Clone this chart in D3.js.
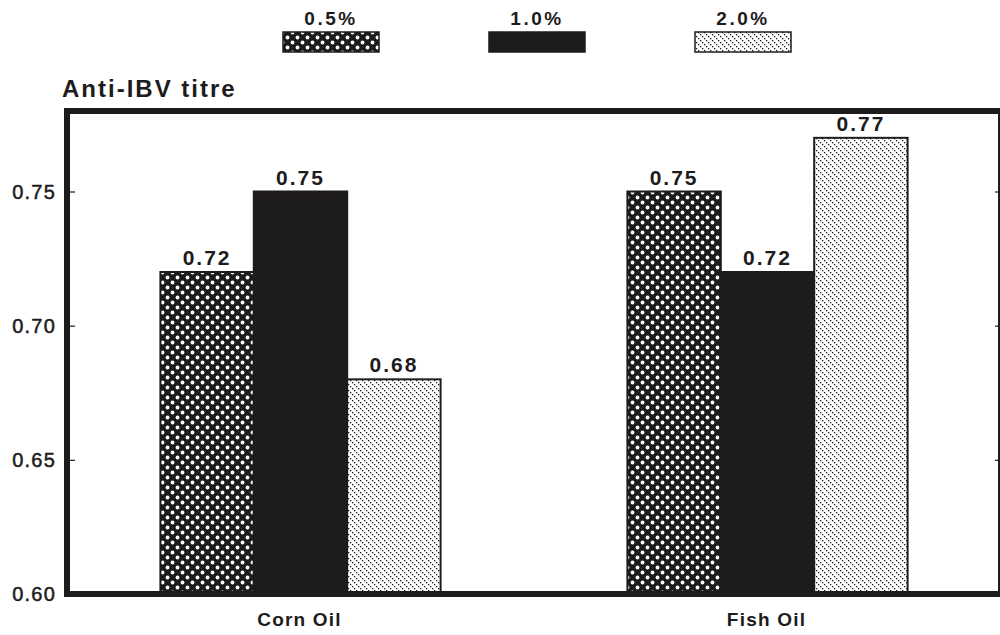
<!DOCTYPE html>
<html>
<head>
<meta charset="utf-8">
<script src="https://cdn.jsdelivr.net/npm/d3@7"></script>
<style>
  html, body { margin: 0; padding: 0; background: #fff; }
  svg { display: block; font-family: "Liberation Sans", Arial, Helvetica, sans-serif; }
</style>
</head>
<body>
<svg id="chart" width="1000" height="635"></svg>
<script>
// ---- data ----
const categories = ["Corn Oil", "Fish Oil"];
const seriesNames = ["0.5%", "1.0%", "2.0%"];
const values05 = [0.72, 0.75];
const values10 = [0.75, 0.72];
const values20 = [0.68, 0.77];
const valueLabels05 = ["0.72", "0.75"];
const valueLabels10 = ["0.75", "0.72"];
const valueLabels20 = ["0.68", "0.77"];
const yTicks = [0.60, 0.65, 0.70, 0.75];
const yTickLabels = ["0.60", "0.65", "0.70", "0.75"];
const yMinorTicks = [0.61, 0.62, 0.63, 0.64, 0.66, 0.67, 0.68, 0.69, 0.71, 0.72, 0.73, 0.74, 0.76, 0.77];
const yTitle = "Anti-IBV titre";

const seriesValues = [values05, values10, values20];
const seriesLabels = [valueLabels05, valueLabels10, valueLabels20];
const fills = ["url(#pDots)", "#1e1b1c", "url(#pHatch)"];

const svg = d3.select("#chart");
const ink = "#1e1b1c";

// ---- patterns ----
const defs = svg.append("defs");
const p1 = defs.append("pattern").attr("id", "pDots").attr("patternUnits", "userSpaceOnUse")
  .attr("width", 10).attr("height", 10);
p1.append("rect").attr("width", 10).attr("height", 10).attr("fill", ink);
[[2.5, 2.5], [7.5, 7.5]].forEach(([cx, cy]) => {
  p1.append("circle").attr("cx", cx).attr("cy", cy).attr("r", 1.9).attr("fill", "#fff");
});
const p3 = defs.append("pattern").attr("id", "pHatch").attr("patternUnits", "userSpaceOnUse")
  .attr("width", 6).attr("height", 6);
p3.append("rect").attr("width", 6).attr("height", 6).attr("fill", "#fff");
[0, 2, 4].forEach(k => {
  p3.append("rect").attr("x", k).attr("y", k).attr("width", 1.3).attr("height", 1.3).attr("fill", ink);
});

// ---- scales ----
const plot = { left: 67, right: 1001, top: 111, bottom: 594 };
const y = d3.scaleLinear().domain([0.60, 0.78]).range([plot.bottom, plot.top]);
const x0 = d3.scaleBand().domain(categories).range([plot.left, plot.right])
  .paddingInner(0.4).paddingOuter(0.2);
const x1 = d3.scaleBand().domain(seriesNames).range([0, x0.bandwidth()]).padding(0);

// ---- bars ----
const g = svg.append("g");
categories.forEach((cat, ci) => {
  seriesNames.forEach((s, si) => {
    const v = seriesValues[si][ci];
    const bx = x0(cat) + x1(s);
    g.append("rect")
      .attr("x", bx).attr("y", y(v))
      .attr("width", x1.bandwidth()).attr("height", y(0.60) - y(v))
      .attr("fill", fills[si]).attr("stroke", ink).attr("stroke-width", 2);
    g.append("text")
      .attr("x", bx + x1.bandwidth() / 2).attr("y", y(v) - 7)
      .attr("text-anchor", "middle").attr("font-size", 21).attr("font-weight", "bold")
      .attr("letter-spacing", 2).attr("fill", ink)
      .text(seriesLabels[si][ci]);
  });
});

// ---- axes ----
const leftAxis = d3.axisRight(y).tickValues(yMinorTicks).tickSize(3).tickFormat("");
svg.append("g").attr("transform", `translate(${plot.left},0)`).call(leftAxis)
  .call(a => a.select(".domain").remove())
  .call(a => a.selectAll("line").attr("stroke", ink).attr("stroke-width", 1));
const leftMajor = d3.axisRight(y).tickValues(yTicks).tickSize(8).tickFormat("");
svg.append("g").attr("transform", `translate(${plot.left},0)`).call(leftMajor)
  .call(a => a.select(".domain").remove())
  .call(a => a.selectAll("line").attr("stroke", ink).attr("stroke-width", 1.2));
const rightMajor = d3.axisLeft(y).tickValues(yTicks).tickSize(6).tickFormat("");
svg.append("g").attr("transform", `translate(${plot.right},0)`).call(rightMajor)
  .call(a => a.select(".domain").remove())
  .call(a => a.selectAll("line").attr("stroke", ink).attr("stroke-width", 1.2));

// tick labels
svg.append("g").selectAll("text").data(yTicks).join("text")
  .attr("x", 56).attr("y", d => y(d) + 7)
  .attr("text-anchor", "end").attr("font-size", 20).attr("letter-spacing", 1.2)
  .attr("fill", ink).attr("stroke", ink).attr("stroke-width", 0.5)
  .text((d, i) => yTickLabels[i]);

// frame
svg.append("rect").attr("x", plot.left).attr("y", plot.top)
  .attr("width", plot.right - plot.left).attr("height", plot.bottom - plot.top)
  .attr("fill", "none").attr("stroke", ink).attr("stroke-width", 6);

// category labels
svg.append("g").selectAll("text").data(categories).join("text")
  .attr("x", d => x0(d) + x0.bandwidth() / 2 - 1).attr("y", 626)
  .attr("text-anchor", "middle").attr("font-size", 19).attr("font-weight", "bold")
  .attr("letter-spacing", 1.2).attr("fill", ink).text(d => d);

// y title
svg.append("text").attr("x", 62).attr("y", 97)
  .attr("font-size", 24).attr("font-weight", "bold").attr("letter-spacing", 2)
  .attr("fill", ink).text(yTitle);

// ---- legend ----
const legendX = d3.scalePoint().domain(seriesNames).range([331, 743]);
const lg = svg.append("g");
seriesNames.forEach((s, si) => {
  const cx = legendX(s);
  lg.append("rect").attr("x", cx - 48).attr("y", 32).attr("width", 96).attr("height", 20)
    .attr("fill", fills[si]).attr("stroke", ink).attr("stroke-width", 1.5);
  lg.append("text").attr("x", cx).attr("y", 25).attr("text-anchor", "middle")
    .attr("font-size", 19).attr("font-weight", "bold").attr("letter-spacing", 2.5)
    .attr("fill", ink).text(s);
});
</script>
</body>
</html>
